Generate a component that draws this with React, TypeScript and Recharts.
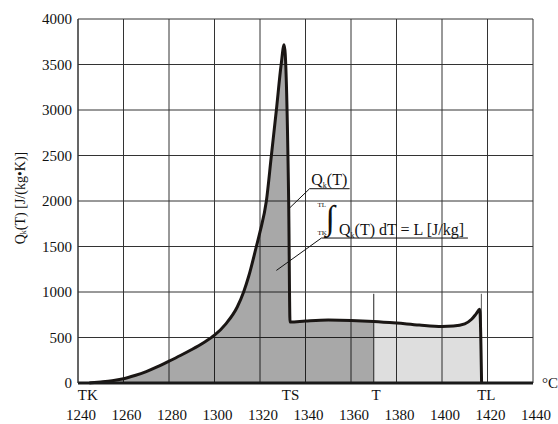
import React from "react";
import {
  ComposedChart,
  Area,
  Line,
  XAxis,
  YAxis,
  CartesianGrid,
  ReferenceLine,
  ReferenceDot,
} from "recharts";

// temperature (°C) and heat curve Q_k(T)
const temps = [
  1245, 1250, 1255, 1260, 1265, 1270, 1275, 1280, 1285, 1290, 1295, 1300,
  1305, 1310, 1312.8, 1315, 1318.4, 1320, 1322.8, 1325, 1327.2, 1329.3,
  1330.6, 1332.6, 1333.2, 1340, 1350, 1360, 1370, 1380, 1390, 1400, 1405,
  1410, 1413, 1415, 1416.6, 1417.4,
];
const heat = [
  0, 12, 26, 46, 82, 126, 180, 240, 302, 368, 440, 525, 650, 835, 1000, 1170,
  1500, 1660, 2000, 2500, 3000, 3500, 3718, 2000, 670, 681, 692, 688, 677,
  659, 637, 622, 626, 650, 700, 760, 810, 0,
];

const xTicks = [1240, 1260, 1280, 1300, 1320, 1340, 1360, 1380, 1400, 1420, 1440];
const yTicks = [0, 500, 1000, 1500, 2000, 2500, 3000, 3500, 4000];

const tPoint = 1370; // T
const tLiquid = 1417.3; // TL
const markerNames = ["TK", "TS", "T", "TL"];
const markerTemps = [1244.3, 1333.4, 1371, 1419.5];

const rows = temps.map((t, i) => ({
  t,
  q: heat[i],
  dark: t <= tPoint ? heat[i] : null,
  light: t >= tPoint ? heat[i] : null,
}));

const serif = "'Liberation Serif', 'Times New Roman', serif";

const at = (p: any) => {
  const vb = p.viewBox || p;
  return { x: vb.x as number, y: vb.y as number };
};

export default function App() {
  return (
    <div style={{ position: "absolute", left: 0, top: 0 }}>
      <ComposedChart
        width={558}
        height={424}
        data={rows}
        margin={{ top: 19, right: 25, bottom: 0, left: 8 }}
        style={{ fontFamily: serif }}
      >
        <CartesianGrid stroke="#333" strokeWidth={1} />
        <XAxis
          dataKey="t"
          type="number"
          domain={[1240, 1440]}
          ticks={xTicks}
          interval={0}
          height={41}
          tickLine={false}
          tickMargin={20}
          axisLine={{ stroke: "#1a1a1a", strokeWidth: 3 }}
          tick={{ fill: "#111", fontSize: 15, fontFamily: serif, dx: 3 }}
        />
        <YAxis
          type="number"
          domain={[0, 4000]}
          ticks={yTicks}
          interval={0}
          width={70}
          tickLine={false}
          tickMargin={0}
          axisLine={{ stroke: "#333" }}
          tick={{ fill: "#111", fontSize: 15, fontFamily: serif }}
          label={(p: any) => {
            const vb = p.viewBox;
            const cx = vb.x + 12;
            const cy = vb.y + vb.height / 2 - 3;
            return (
              <text
                x={cx}
                y={cy}
                transform={`rotate(-90 ${cx} ${cy})`}
                textAnchor="middle"
                dominantBaseline="central"
                fontSize={14}
                fontFamily={serif}
                fill="#111"
              >
                Q<tspan fontSize={8} dy={3}>k</tspan>
                <tspan dy={-3}>(T) [J/(kg•K)]</tspan>
              </text>
            );
          }}
        />
        <Area
          dataKey="dark"
          type="monotone"
          stroke="none"
          fill="#000"
          fillOpacity={0.34}
          isAnimationActive={false}
        />
        <Area
          dataKey="light"
          type="monotone"
          stroke="none"
          fill="#000"
          fillOpacity={0.13}
          isAnimationActive={false}
        />
        <ReferenceLine
          segment={[{ x: tPoint, y: 0 }, { x: tPoint, y: 980 }]}
          stroke="#222"
          strokeWidth={1}
        />
        <ReferenceLine
          segment={[{ x: tLiquid, y: 0 }, { x: tLiquid, y: 980 }]}
          stroke="#555"
          strokeWidth={1}
        />
        <Line
          dataKey="q"
          type="monotone"
          stroke="#1a1614"
          strokeWidth={3}
          strokeLinejoin="round"
          dot={false}
          isAnimationActive={false}
        />
        {/* Q_k(T) callout */}
        <ReferenceLine
          segment={[{ x: 1333.0, y: 1923 }, { x: 1341.8, y: 2135 }]}
          stroke="#111"
        />
        <ReferenceLine
          segment={[{ x: 1341.8, y: 2135 }, { x: 1359.4, y: 2135 }]}
          stroke="#111"
        />
        <ReferenceDot
          x={1341.8}
          y={2135}
          r={0}
          fill="none"
          stroke="none"
          label={(p: any) => {
            const { x, y } = at(p);
            return (
              <text x={x + 1.7} y={y - 4} fontSize={16} fontFamily={serif} fill="#111">
                Q<tspan fontSize={8} dy={3}>k</tspan>
                <tspan dy={-3}>(T)</tspan>
              </text>
            );
          }}
        />
        {/* integral callout */}
        <ReferenceLine
          segment={[{ x: 1327.2, y: 1237 }, { x: 1347.0, y: 1593 }]}
          stroke="#111"
        />
        <ReferenceLine
          segment={[{ x: 1347.0, y: 1593 }, { x: 1411.4, y: 1593 }]}
          stroke="#111"
        />
        <ReferenceDot
          x={1347.0}
          y={1593}
          r={0}
          fill="none"
          stroke="none"
          label={(p: any) => {
            const { x, y } = at(p);
            return (
              <g fontFamily={serif} fill="#111">
                <text x={x - 4} y={y - 31} fontSize={7}>TL</text>
                <text x={x - 4} y={y - 3} fontSize={7}>TK</text>
                <text x={x + 4} y={y - 9} fontSize={34}>∫</text>
                <text x={x + 17.6} y={y - 3.3} fontSize={16}>
                  Q<tspan fontSize={8} dy={3}>k</tspan>
                  <tspan dy={-3}>(T) dT = L [J/kg]</tspan>
                </text>
              </g>
            );
          }}
        />
        {markerNames.map((name, i) => (
          <ReferenceDot
            key={name}
            x={markerTemps[i]}
            y={0}
            r={0}
            fill="none"
            stroke="none"
            label={(p: any) => {
              const { x, y } = at(p);
              return (
                <text x={x} y={y + 17} textAnchor="middle" fontSize={15} fontFamily={serif} fill="#111">
                  {name}
                </text>
              );
            }}
          />
        ))}
        <ReferenceDot
          x={1440}
          y={0}
          r={0}
          fill="none"
          stroke="none"
          label={(p: any) => {
            const { x, y } = at(p);
            return (
              <text x={x + 9} y={y + 5} fontSize={15} fontFamily={serif} fill="#111">
                °C
              </text>
            );
          }}
        />
      </ComposedChart>
    </div>
  );
}
